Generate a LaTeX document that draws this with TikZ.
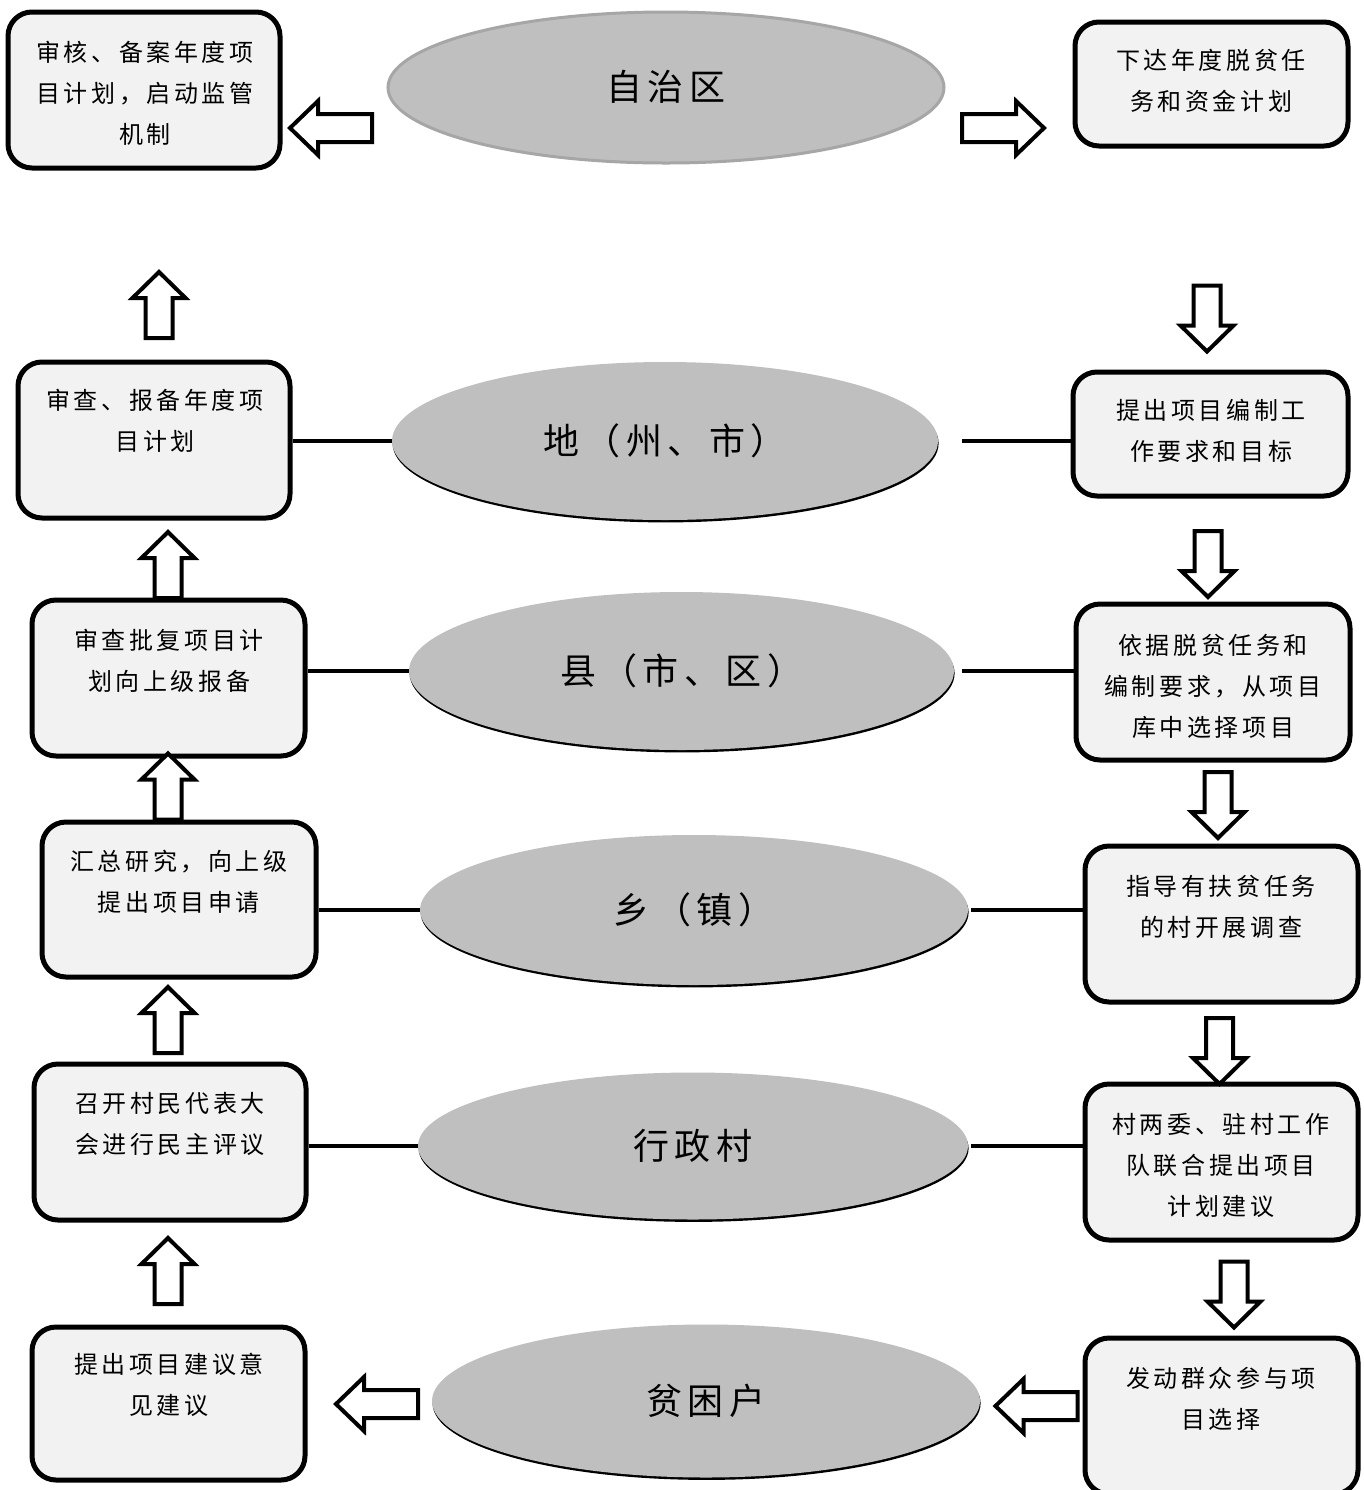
\documentclass[tikz,border=0pt]{standalone}
\usepackage{fontspec}
\usetikzlibrary{shapes.geometric,shadows}
\newfontfamily\cjk[LetterSpace=15]{Noto Sans CJK SC}
\definecolor{boxfill}{HTML}{F2F2F2}
\definecolor{ellfill}{HTML}{BFBFBF}
\definecolor{ellrim}{HTML}{A6A6A6}
\tikzset{
  box/.style={draw=black, line width=2.5pt, fill=boxfill, rounded corners=12pt, inner sep=0pt},
  boxtext/.style={align=center, inner sep=0pt, font=\cjk\fontsize{12}{20.5}\selectfont},
  ell/.style={ellipse, inner sep=0pt, fill=ellfill, font=\cjk\fontsize{18}{20}\selectfont,
    drop shadow={shadow xshift=0.3pt, shadow yshift=-1.2pt, opacity=1, fill=black}},
  elltop/.style={ellipse, inner sep=0pt, fill=ellfill, draw=ellrim, line width=1.5pt, font=\cjk\fontsize{18}{20}\selectfont},
  link/.style={draw=black, line width=2pt},
  arrowline/.style={draw=black, fill=white, line width=2pt},
  harrow/.pic={\path[arrowline] (41,0) -- (13,-27) -- (13,-14) -- (-41,-14) -- (-41,14) -- (13,14) -- (13,27) -- cycle;},
  varrow/.pic={\path[arrowline] (33,0) -- (7,-26.5) -- (7,-13.5) -- (-33,-13.5) -- (-33,13.5) -- (7,13.5) -- (7,26.5) -- cycle;}
}
\begin{document}
\begin{tikzpicture}[x=0.5pt, y=-0.5pt]
\useasboundingbox (0,0) rectangle (1364,1490);

% ellipses
\node[elltop, minimum width=278pt, minimum height=75.5pt] (E0) at (666,87.5) {\raisebox{2pt}{自治区}};
\node[ell, minimum width=273pt, minimum height=79pt] (E1) at (665,441) {地（州、市）};
\node[ell, minimum width=272.5pt, minimum height=79pt] (E2) at (681.5,671) {县（市、区）};
\node[ell, minimum width=274pt, minimum height=75pt] (E3) at (694,910) {乡（镇）};
\node[ell, minimum width=275pt, minimum height=73.5pt] (E4) at (693,1146) {行政村};
\node[ell, minimum width=274pt, minimum height=76.5pt] (E5) at (706,1401) {贫困户};

% left boxes
\node[box, minimum width=136pt, minimum height=78pt] (B0) at (144,90) {};
\node[box, minimum width=136pt, minimum height=78pt] (B1) at (154,440) {};
\node[box, minimum width=136.5pt, minimum height=78pt] (B2) at (168.5,678) {};
\node[box, minimum width=137pt, minimum height=77.5pt] (B3) at (179,899.5) {};
\node[box, minimum width=136pt, minimum height=78pt] (B4) at (170,1142) {};
\node[box, minimum width=136.5pt, minimum height=76.5pt] (B5) at (168.5,1403.5) {};

% right boxes
\node[box, minimum width=136.5pt, minimum height=62pt] (R0) at (1211.5,84) {};
\node[box, minimum width=137.5pt, minimum height=62pt] (R1) at (1210.5,434) {};
\node[box, minimum width=137pt, minimum height=78pt] (R2) at (1213,682) {};
\node[box, minimum width=136.5pt, minimum height=78pt] (R3) at (1221.5,924) {};
\node[box, minimum width=136.5pt, minimum height=78pt] (R4) at (1221.5,1162) {};
\node[box, minimum width=136.5pt, minimum height=78pt] (R5) at (1221.5,1416) {};

% box texts
\node[boxtext] (tB0) at (145,93) {审核、备案年度项\\目计划，启动监管\\机制};
\node[boxtext] (tB1) at (155,420.5) {审查、报备年度项\\目计划};
\node[boxtext] (tB2) at (169,660.5) {审查批复项目计\\划向上级报备};
\node[boxtext] (tB3) at (179,881.5) {汇总研究，向上级\\提出项目申请};
\node[boxtext] (tB4) at (170,1123.5) {召开村民代表大\\会进行民主评议};
\node[boxtext] (tB5) at (169,1385) {提出项目建议意\\见建议};
\node[boxtext] (tR0) at (1211,80.5) {下达年度脱贫任\\务和资金计划};
\node[boxtext] (tR1) at (1211,430.5) {提出项目编制工\\作要求和目标};
\node[boxtext] (tR2) at (1213,686) {依据脱贫任务和\\编制要求，从项目\\库中选择项目};
\node[boxtext] (tR3) at (1221,906.5) {指导有扶贫任务\\的村开展调查};
\node[boxtext] (tR4) at (1221,1165) {村两委、驻村工作\\队联合提出项目\\计划建议};
\node[boxtext] (tR5) at (1221,1398.5) {发动群众参与项\\目选择};

% connector lines
\draw[link] (B1.east |- E1.west) -- (E1.west);
\draw[link, shorten <=12pt] (E1.east) -- (E1.east -| R1.west);
\draw[link] (B2.east |- E2.west) -- (E2.west);
\draw[link, shorten <=4pt] (E2.east) -- (E2.east -| R2.west);
\draw[link] (B3.east |- E3.west) -- (E3.west);
\draw[link, shorten <=1.5pt] (E3.east) -- (E3.east -| R3.west);
\draw[link] (B4.east |- E4.west) -- (E4.west);
\draw[link, shorten <=1.5pt] (E4.east) -- (E4.east -| R4.west);

% block arrows
\pic[rotate=180] at (331,128) {harrow};
\pic at (1003,128) {harrow};
\pic[rotate=180] at (377,1404) {harrow};
\pic[rotate=180] at (1036.5,1406) {harrow};

\pic[rotate=90] at (159,305) {varrow};
\pic[rotate=90] at (168,565) {varrow};
\pic[rotate=90] at (168,786.5) {varrow};
\pic[rotate=90] at (168,1020) {varrow};
\pic[rotate=90] at (168,1271) {varrow};

\pic[rotate=-90] at (1207,318.5) {varrow};
\pic[rotate=-90] at (1208,564) {varrow};
\pic[rotate=-90] at (1218,805) {varrow};
\pic[rotate=-90] at (1219.5,1051) {varrow};
\pic[rotate=-90] at (1234,1294.5) {varrow};
\end{tikzpicture}
\end{document}
